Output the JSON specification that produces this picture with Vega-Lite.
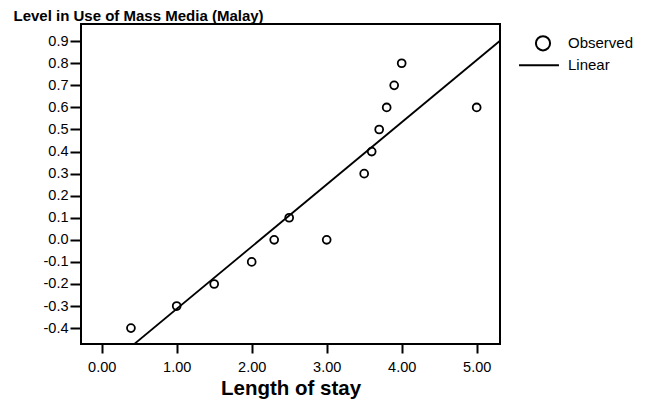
{
  "$schema": "https://vega.github.io/schema/vega-lite/v6.json",
  "width": 419,
  "height": 320,
  "autosize": {"type": "none"},
  "padding": {"left": 81, "top": 24, "right": 145, "bottom": 60},
  "background": "white",
  "config": {
    "font": "Liberation Sans",
    "view": {"stroke": "black", "strokeWidth": 2}
  },
  "data": {
    "values": [
      {"stay": 0.39, "media": -0.4, "series": "Observed"},
      {"stay": 1.0, "media": -0.3, "series": "Observed"},
      {"stay": 1.5, "media": -0.2, "series": "Observed"},
      {"stay": 2.0, "media": -0.1, "series": "Observed"},
      {"stay": 2.3, "media": 0.0, "series": "Observed"},
      {"stay": 2.5, "media": 0.1, "series": "Observed"},
      {"stay": 3.0, "media": 0.0, "series": "Observed"},
      {"stay": 3.5, "media": 0.3, "series": "Observed"},
      {"stay": 3.6, "media": 0.4, "series": "Observed"},
      {"stay": 3.7, "media": 0.5, "series": "Observed"},
      {"stay": 3.8, "media": 0.6, "series": "Observed"},
      {"stay": 3.9, "media": 0.7, "series": "Observed"},
      {"stay": 4.0, "media": 0.8, "series": "Observed"},
      {"stay": 5.0, "media": 0.6, "series": "Observed"}
    ]
  },
  "layer": [
    {
      "mark": {"type": "point", "shape": "circle", "size": 62, "strokeWidth": 1.8, "color": "black", "filled": false, "opacity": 1},
      "encoding": {
        "x": {
          "field": "stay", "type": "quantitative",
          "scale": {"domain": [-0.276, 5.311], "nice": false, "zero": false},
          "axis": {
            "values": [0, 1, 2, 3, 4, 5],
            "tickCount": 20,
            "labelExpr": "format(datum.value, '.2f')",
            "labelOverlap": false,
            "domain": false, "grid": false,
            "tickColor": "black", "tickWidth": 2, "tickSize": 9,
            "labelFontSize": 14.5, "labelColor": "black", "labelPadding": 7,
            "title": "Length of stay", "titleFontSize": 20.5, "titleFontWeight": "bold",
            "titleColor": "black", "titlePadding": 5
          }
        },
        "y": {
          "field": "media", "type": "quantitative",
          "scale": {"domain": [-0.472, 0.978], "nice": false, "zero": false},
          "axis": {
            "values": [-0.4, -0.3, -0.2, -0.1, 0, 0.1, 0.2, 0.3, 0.4, 0.5, 0.6, 0.7, 0.8, 0.9],
            "tickCount": 20,
            "labelExpr": "replace(format(datum.value, '.1f'), '−', '-')",
            "labelOverlap": false,
            "domain": false, "grid": false,
            "tickColor": "black", "tickWidth": 2, "tickSize": 11,
            "labelFontSize": 14.5, "labelColor": "black", "labelPadding": 2,
            "title": "Level in Use of Mass Media (Malay)",
            "titleAngle": 0, "titleAlign": "left", "titleBaseline": "alphabetic",
            "titleX": -68, "titleY": -4,
            "titleFontSize": 15, "titleFontWeight": "bold", "titleColor": "black"
          }
        },
        "shape": {
          "field": "series", "type": "nominal",
          "scale": {"domain": ["Observed", "Linear"], "range": ["circle", "M-3.38,0H2.25"]},
          "legend": {
            "title": null,
            "orient": "none",
            "legendX": 453.5,
            "legendY": 10.8,
            "padding": 0,
            "symbolSize": 201,
            "symbolStrokeWidth": 2,
            "symbolStrokeColor": "black",
            "symbolFillColor": "transparent",
            "labelFontSize": 15,
            "labelColor": "black",
            "labelOffset": 16.5,
            "rowPadding": 2
          }
        }
      }
    },
    {
      "transform": [{"regression": "media", "on": "stay", "extent": [-0.276, 5.311]}],
      "mark": {"type": "line", "color": "black", "strokeWidth": 1.8, "clip": true},
      "encoding": {
        "x": {"field": "stay", "type": "quantitative"},
        "y": {"field": "media", "type": "quantitative"}
      }
    }
  ]
}
